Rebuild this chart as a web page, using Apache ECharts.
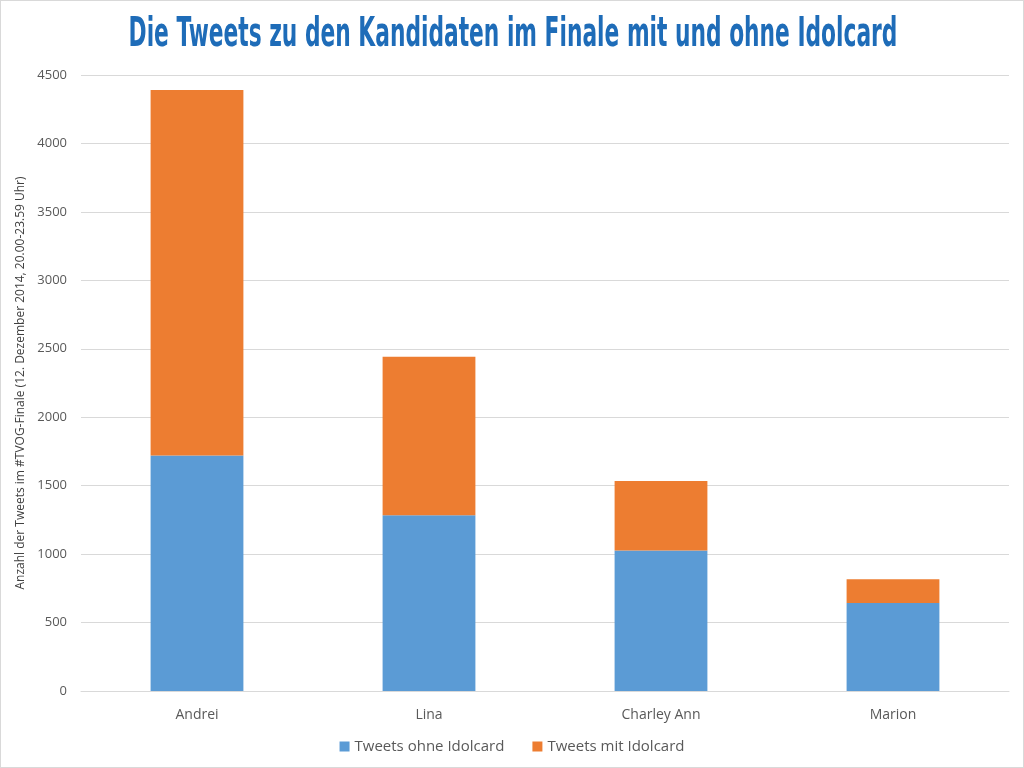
<!DOCTYPE html>
<html>
<head>
<meta charset="utf-8">
<script src="https://cdn.jsdelivr.net/npm/echarts@6/dist/echarts.min.js"></script>
<style>
html,body{margin:0;padding:0;background:#fff;}
#c{width:1024px;height:768px;box-sizing:border-box;border:1px solid #d9d9d9;}
</style>
</head>
<body>
<div id="c"></div>
<script>
const categories = ['Andrei', 'Lina', 'Charley Ann', 'Marion'];
const ohneIdolcard = [1721, 1284, 1027, 643];
const mitIdolcard = [2670, 1157, 507, 173];
const yTicks = { min: 0, max: 4500, interval: 500 };
const titleText = 'Die Tweets zu den Kandidaten im Finale mit und ohne Idolcard';

const chart = echarts.init(document.getElementById('c'));
chart.setOption({
  animation: false,
  graphic: [{
    type: 'text',
    x: 512, y: 34,
    scaleX: 0.59,
    style: {
      text: titleText,
      font: 'bold 41px "DejaVu Sans Condensed"',
      fill: '#1e6cb8',
      textAlign: 'center',
      textVerticalAlign: 'middle'
    }
  }],
  legend: {
    bottom: 8,
    left: 'center',
    itemWidth: 10, itemHeight: 10, itemGap: 28,
    icon: 'rect',
    textStyle: { fontFamily: 'Open Sans', fontSize: 15, color: '#595959' },
    data: ['Tweets ohne Idolcard', 'Tweets mit Idolcard']
  },
  grid: { left: 80, right: 14, top: 74, bottom: 76 },
  xAxis: {
    type: 'category',
    data: categories,
    axisLine: { lineStyle: { color: '#d9d9d9' } },
    axisTick: { show: false },
    axisLabel: { fontFamily: 'Open Sans', fontSize: 14, color: '#595959', margin: 17 }
  },
  yAxis: {
    type: 'value',
    min: yTicks.min, max: yTicks.max, interval: yTicks.interval,
    name: 'Anzahl der Tweets im #TVOG-Finale (12. Dezember 2014, 20.00-23.59 Uhr)',
    nameLocation: 'middle',
    nameGap: 52,
    nameTextStyle: { fontFamily: 'Open Sans', fontSize: 12, color: '#404040' },
    axisLine: { show: false },
    axisTick: { show: false },
    splitLine: { lineStyle: { color: '#d9d9d9' } },
    axisLabel: { fontFamily: 'Open Sans', fontSize: 13, color: '#595959', margin: 14, formatter: v => String(v) }
  },
  series: [
    { name: 'Tweets ohne Idolcard', type: 'bar', stack: 't', data: ohneIdolcard, barWidth: '40%', itemStyle: { color: '#5b9bd5' } },
    { name: 'Tweets mit Idolcard', type: 'bar', stack: 't', data: mitIdolcard, barWidth: '40%', itemStyle: { color: '#ed7d31' } }
  ]
});
</script>
</body>
</html>
